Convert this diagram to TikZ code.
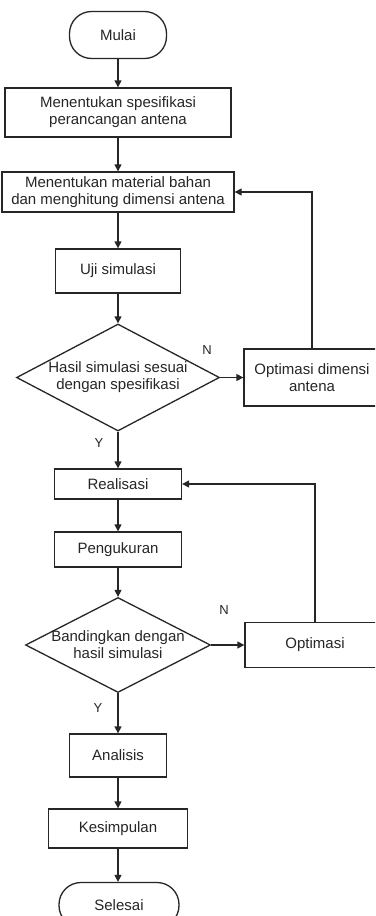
\documentclass[tikz,border=0pt]{standalone}
\usepackage{fontspec}
\setmainfont{Liberation Sans}
\usetikzlibrary{shapes.geometric,arrows.meta}
\begin{document}
\begin{tikzpicture}[x=1pt,y=-1pt,
  every node/.style={font=\fontsize{15}{17}\selectfont, text=black!85, align=center, inner sep=0pt},
  proc/.style={draw=black!85, line width=1.3pt, rectangle},
  term/.style={draw=black!85, line width=1.3pt, rectangle, rounded corners=22pt},
  dia/.style={draw=black!85, line width=1.3pt, diamond},
  arr/.style={draw=black!85, line width=1.3pt, -{Triangle[length=7pt,width=7pt]}},
  lbl/.style={font=\fontsize{13}{15}\selectfont}
]
\useasboundingbox (0,0) rectangle (375,916);
\clip (0,0) rectangle (375,916);
\fill[white] (0,0) rectangle (375,916);

\node[term, minimum width=97pt, minimum height=47pt] (mulai) at (118,35) {Mulai};
\node[proc, minimum width=226pt, minimum height=49pt] (b1) at (118,112.5) {Menentukan spesifikasi\\perancangan antena};
\node[proc, minimum width=232pt, minimum height=40pt] (b2) at (118,192) {Menentukan material bahan\\dan menghitung dimensi antena};
\node[proc, minimum width=125pt, minimum height=44pt] (uji) at (118,271) {Uji simulasi};
\node[dia, minimum width=203pt, minimum height=107pt] (d1) at (118,377.5) {};
\node (d1t) at (d1) {Hasil simulasi sesuai\\dengan spesifikasi};
\node[proc, minimum width=136pt, minimum height=57pt] (o1) at (312,377.5) {Optimasi dimensi\\antena};
\node[proc, minimum width=127pt, minimum height=30pt] (real) at (118,484) {Realisasi};
\node[proc, minimum width=127pt, minimum height=35pt] (ukur) at (118,549.5) {Pengukuran};
\node[dia, minimum width=185pt, minimum height=95pt] (d2) at (118,645) {};
\node (d2t) at (d2) {Bandingkan dengan\\hasil simulasi};
\node[proc, minimum width=140pt, minimum height=45pt] (o2) at (315,645) {Optimasi};
\node[proc, minimum width=97pt, minimum height=43pt] (an) at (118,755.5) {Analisis};
\node[proc, minimum width=139pt, minimum height=39pt] (kes) at (118,828.5) {Kesimpulan};
\node[term, minimum width=120pt, minimum height=45pt] (sel) at (119,905) {Selesai};

\node[lbl] (n1) at (207,350) {N};
\node[lbl] (y1) at (99,443) {Y};
\node[lbl] (n2) at (224,610) {N};
\node[lbl] (y2) at (98,708) {Y};

\draw[arr] (mulai) -- (b1);
\draw[arr] (b1) -- (b2);
\draw[arr] (b2) -- (uji);
\draw[arr] (uji) -- (d1);
\draw[arr] (d1) -- (real);
\draw[arr] (real) -- (ukur);
\draw[arr] (ukur) -- (d2);
\draw[arr] (d2) -- (an);
\draw[arr] (an) -- (kes);
\draw[arr] (kes.south) -- (kes.south |- sel.north);
\draw[arr] (d1.east) -- (o1.west);
\draw[arr] (o1.north) |- (b2.east);
\draw[arr] (d2.east) -- (o2.west);
\draw[arr] (o2.north) |- (real.east);
\end{tikzpicture}
\end{document}
